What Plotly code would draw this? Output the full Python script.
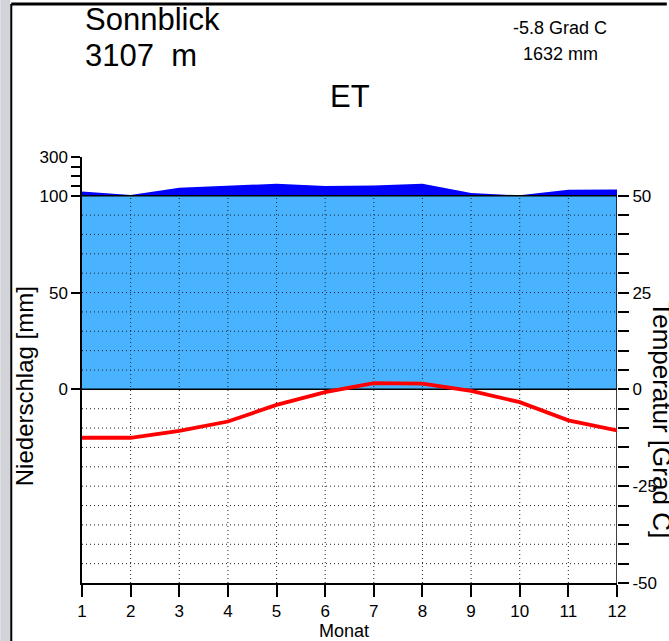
import plotly.graph_objects as go

# Climate data for Sonnblick (monthly means)
months = list(range(1, 13))
precip_mm = [122, 104, 141, 153, 162, 150, 153, 162, 114, 102, 131, 132]
temp_c = [-12.5, -12.5, -10.7, -8.3, -4.0, -0.7, 1.6, 1.5, -0.4, -3.3, -8.0, -10.6]

station = "Sonnblick"
altitude = "3107  m"
climate_class = "ET"
mean_temp_text = "-5.8 Grad C"
annual_precip_text = "1632 mm"

left_ticks_mm = [0, 50, 100, 150, 200, 250, 300]
left_tick_labels = ["0", "50", "100", "", "", "", "300"]
temp_ticks = list(range(-50, 55, 5))
temp_tick_labels = [str(t) if t % 25 == 0 else "" for t in temp_ticks]

FONT = "Liberation Sans, Arial, Helvetica, sans-serif"
LIGHT_BLUE = "#49B3FF"
DARK_BLUE = "#0000FF"


def scale_precip(p):
    """Walter-Lieth precipitation scale: above 100 mm compressed by 1/10."""
    return p if p <= 100 else 100 + (p - 100) / 10.0


fig = go.Figure()

# humid area 0..100 mm
fig.add_trace(go.Scatter(x=months, y=[0] * len(months), mode="lines",
                         line=dict(width=0), hoverinfo="skip", showlegend=False))
fig.add_trace(go.Scatter(x=months, y=[min(p, 100) for p in precip_mm], mode="lines",
                         line=dict(width=0), fill="tonexty", fillcolor=LIGHT_BLUE,
                         hoverinfo="skip", showlegend=False))
# perhumid area above 100 mm (compressed scale)
fig.add_trace(go.Scatter(x=months, y=[100] * len(months), mode="lines",
                         line=dict(width=0), hoverinfo="skip", showlegend=False))
fig.add_trace(go.Scatter(x=months, y=[scale_precip(p) for p in precip_mm], mode="lines",
                         line=dict(width=0), fill="tonexty", fillcolor=DARK_BLUE,
                         hoverinfo="skip", showlegend=False))

# dotted grid on the temperature axis
hx, hy = [], []
for t in temp_ticks:
    if abs(t) < 50 and t != 0:
        hx += [months[0], months[-1], None]
        hy += [t, t, None]
fig.add_trace(go.Scatter(x=hx, y=hy, yaxis="y2", mode="lines",
                         line=dict(color="#222222", width=1, dash="1px,3px"),
                         hoverinfo="skip", showlegend=False))
vx, vy = [], []
for m in months[1:-1]:
    vx += [m, m, None]
    vy += [temp_ticks[0], temp_ticks[-1], None]
fig.add_trace(go.Scatter(x=vx, y=vy, yaxis="y2", mode="lines",
                         line=dict(color="#222222", width=1, dash="1px,3px"),
                         hoverinfo="skip", showlegend=False))

# solid reference lines at 0 and at 100 mm (= 50 Grad C)
fig.add_trace(go.Scatter(x=[months[0], months[-1], None, months[0], months[-1]],
                         y=[0, 0, None, temp_ticks[-1], temp_ticks[-1]], yaxis="y2",
                         mode="lines", line=dict(color="black", width=1.5),
                         hoverinfo="skip", showlegend=False))
# right axis line from -50 to 50
fig.add_trace(go.Scatter(x=[months[-1], months[-1]], y=[temp_ticks[0], temp_ticks[-1]],
                         yaxis="y2", mode="lines", line=dict(color="black", width=1.5),
                         hoverinfo="skip", showlegend=False))

# temperature curve
fig.add_trace(go.Scatter(x=months, y=temp_c, yaxis="y2", mode="lines",
                         line=dict(color="#FF0000", width=3.8),
                         hoverinfo="skip", showlegend=False))

TICK_SIZE = 17
fig.update_layout(
    width=669, height=641,
    margin=dict(l=82, r=50, t=157, b=58),
    paper_bgcolor="white", plot_bgcolor="white",
    font=dict(family=FONT, color="black"),
    xaxis=dict(range=[1, 12], tickvals=months, ticktext=[str(m) for m in months],
               showline=True, linecolor="black", linewidth=1.5,
               ticks="outside", ticklen=12, tickcolor="black", tickwidth=1.5,
               showgrid=False, zeroline=False, tickfont=dict(size=TICK_SIZE)),
    yaxis=dict(range=[-100, 120], tickvals=[scale_precip(v) for v in left_ticks_mm],
               ticktext=left_tick_labels,
               showline=True, linecolor="black", linewidth=1.5,
               ticks="outside", ticklen=9, tickcolor="black", tickwidth=1.5,
               showgrid=False, zeroline=False, tickfont=dict(size=TICK_SIZE)),
    yaxis2=dict(range=[-50, 60], overlaying="y", side="right",
                tickvals=temp_ticks, ticktext=temp_tick_labels,
                showline=False, ticks="outside", ticklen=11, tickcolor="black",
                tickwidth=1.5, showgrid=False, zeroline=False,
                tickfont=dict(size=TICK_SIZE)),
)

# grey strip at the left edge of the page
fig.add_shape(type="rect", xref="paper", yref="paper", x0=-82 / 537, x1=-72 / 537,
              y0=-58 / 426, y1=(426 + 157) / 426, fillcolor="#D2D3D9", line=dict(width=0),
              layer="below")

anns = [
    dict(text=station, x=83, y=19, size=31, xanchor="left"),
    dict(text=altitude, x=83, y=55, size=31, xanchor="left"),
    dict(text=mean_temp_text, x=562, y=28, size=18, xanchor="center"),
    dict(text=annual_precip_text, x=562, y=54, size=18, xanchor="center"),
    dict(text=climate_class, x=351, y=97, size=31, xanchor="center"),
    dict(text="Monat", x=345, y=631, size=18, xanchor="center"),
    dict(text="Monat", x=345, y=-7, size=18, xanchor="center"),
]
for a in anns:
    fig.add_annotation(text=a["text"], xref="paper", yref="paper",
                       x=(a["x"] - 82) / 537, y=(641 - 58 - a["y"]) / 426,
                       xanchor=a["xanchor"], yanchor="middle", showarrow=False,
                       font=dict(size=a["size"], family=FONT, color="black"))

fig.add_annotation(text="Niederschlag [mm]", xref="paper", yref="paper",
                   x=(24 - 82) / 537, y=(641 - 58 - 386) / 426, textangle=-90,
                   xanchor="center", yanchor="middle", showarrow=False,
                   font=dict(size=24, family=FONT, color="black"))
fig.add_annotation(text="Temperatur [Grad C]", xref="paper", yref="paper",
                   x=(664 - 82) / 537, y=(641 - 58 - 420) / 426, textangle=90,
                   xanchor="center", yanchor="middle", showarrow=False,
                   font=dict(size=26, family=FONT, color="black"))

# window border lines
fig.add_shape(type="line", xref="paper", yref="paper", x0=-71 / 537, x1=(669 - 82) / 537,
              y0=(641 - 58 - 4) / 426, y1=(641 - 58 - 4) / 426, line=dict(color="black", width=3))
fig.add_shape(type="line", xref="paper", yref="paper", x0=-71 / 537, x1=-71 / 537,
              y0=-58 / 426, y1=(641 - 58 - 4) / 426, line=dict(color="black", width=2))

fig.write_html("out.html")
